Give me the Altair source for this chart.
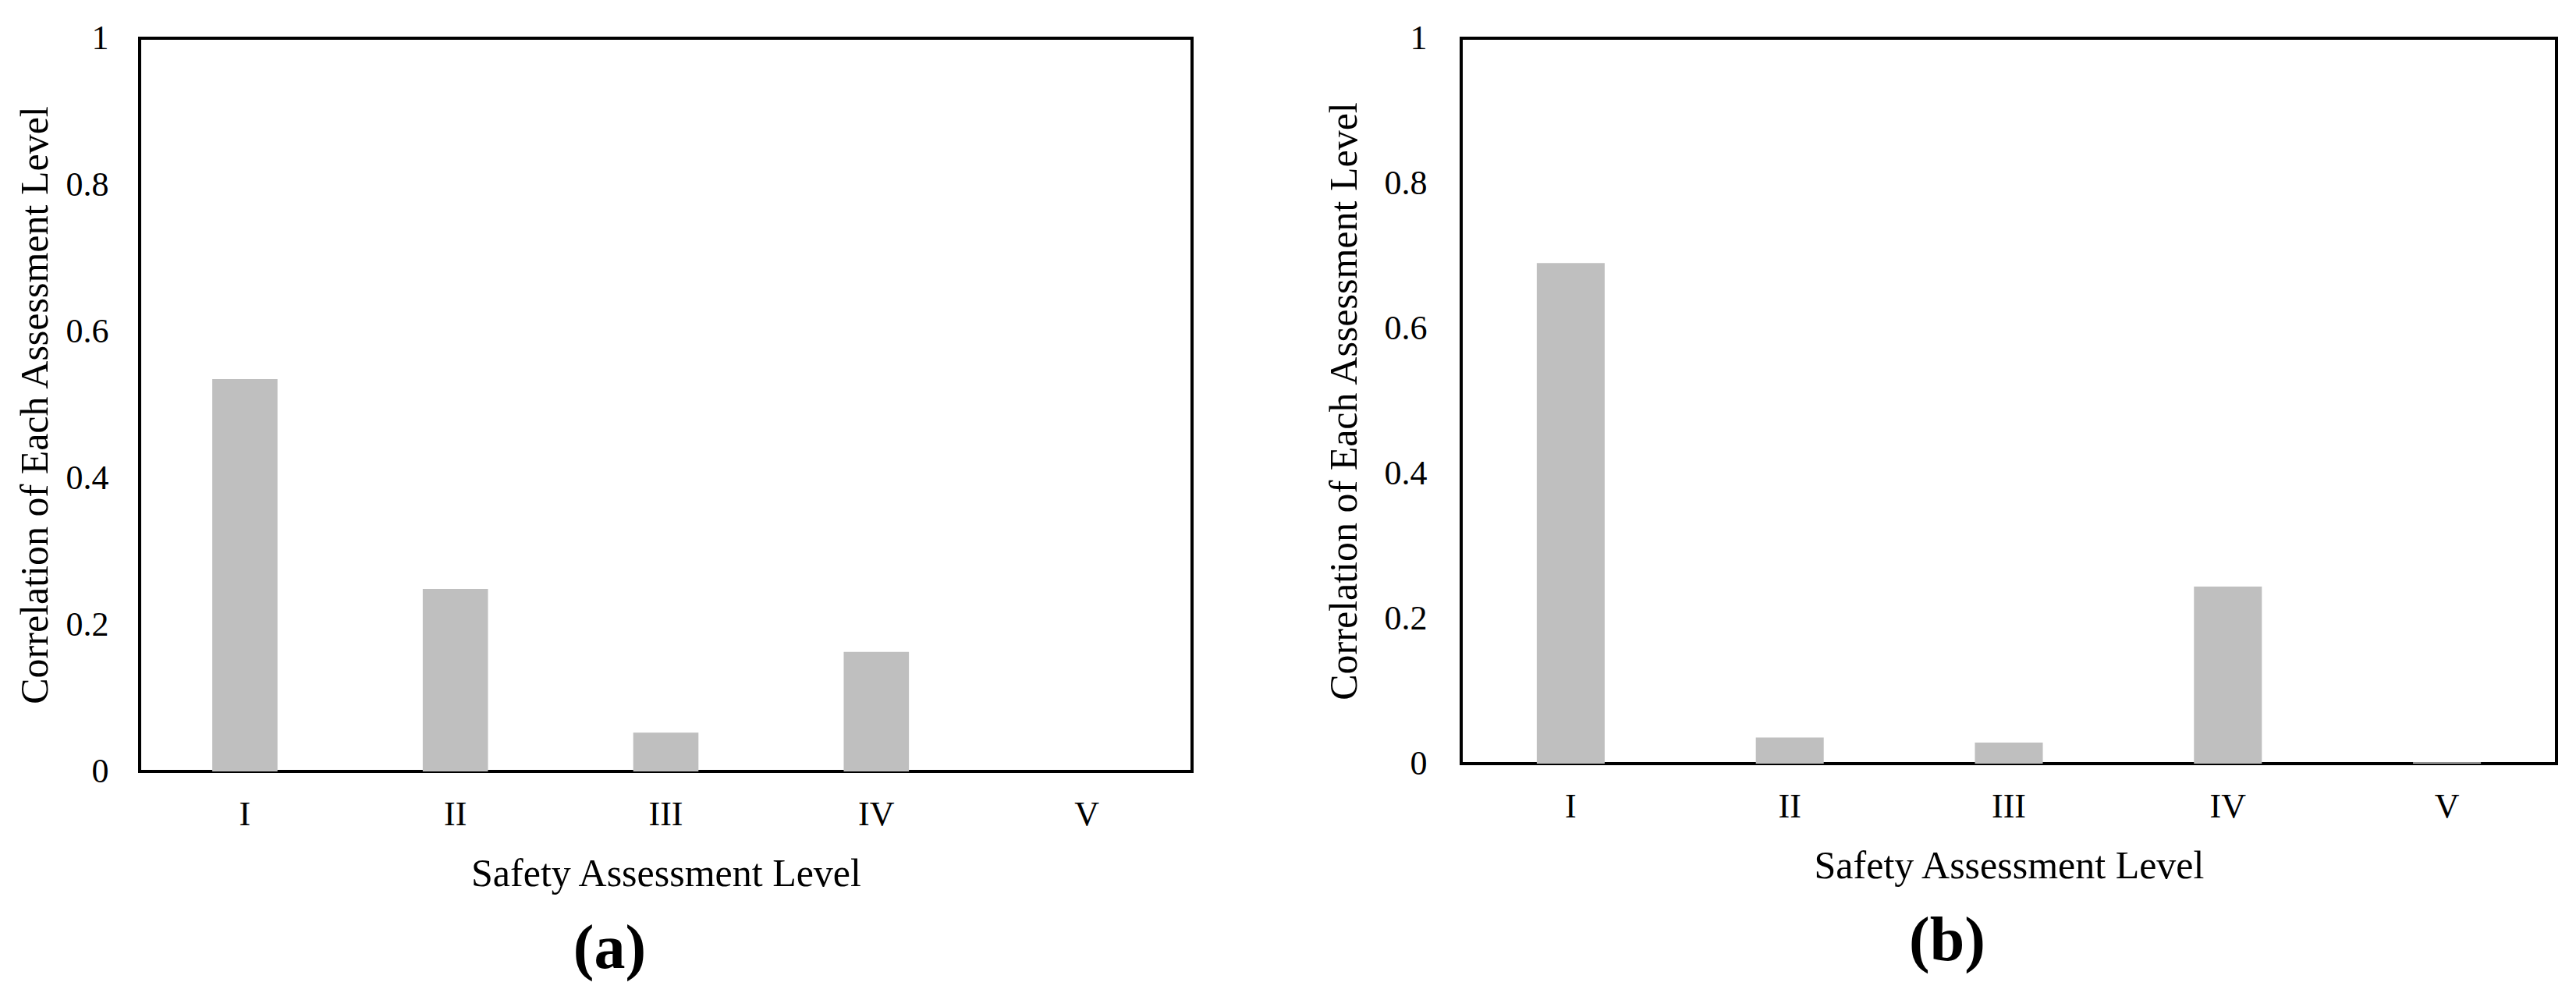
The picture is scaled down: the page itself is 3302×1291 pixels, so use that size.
import altair as alt
import pandas as pd

levels = ["I", "II", "III", "IV", "V"]
corr_a = [0.535, 0.249, 0.053, 0.163, 0.0]
corr_b = [0.690, 0.036, 0.029, 0.244, 0.002]
y_ticks = [0, 0.2, 0.4, 0.6, 0.8, 1]
x_title = "Safety Assessment Level"
y_title = "Correlation of Each Assessment Level"
panel_labels = ["(a)", "(b)"]

FONT = "Liberation Serif"
BAR = "#BFBFBF"


def panel(values, label, width, height, lab_pad, title_pad, dx):
    df = pd.DataFrame({"level": levels, "value": values})
    return alt.Chart(df).mark_bar(color=BAR).encode(
        x=alt.X(
            "level:N",
            sort=levels,
            scale=alt.Scale(paddingInner=0.69, paddingOuter=0.345),
            axis=alt.Axis(title=x_title, labelAngle=0, labelPadding=33, titlePadding=29),
        ),
        y=alt.Y(
            "value:Q",
            scale=alt.Scale(domain=[0, 1], nice=False),
            axis=alt.Axis(title=y_title, values=y_ticks, format="~g",
                          labelPadding=lab_pad, titlePadding=title_pad),
        ),
    ).properties(
        width=width,
        height=height,
        title=alt.TitleParams(label, orient="bottom", anchor="middle", frame="group", dx=dx,
                              fontSize=80, fontWeight="bold", font=FONT, color="black", offset=33),
    )


left = panel(corr_a, panel_labels[0], 1349, 940, 40, 14, -72)
right = panel(corr_b, panel_labels[1], 1404, 930, 44, 26, -79)

chart = alt.hconcat(left, right, spacing=166).properties(
    padding={"left": 10, "top": 17, "right": 0, "bottom": 0},
    background="white",
).configure_view(
    stroke="black", strokeWidth=4
).configure_axis(
    domain=False, ticks=False, grid=False,
    labelFont=FONT, titleFont=FONT, labelFontSize=44, titleFontSize=50,
    labelColor="black", titleColor="black", titleFontWeight="normal",
)

chart.save("out.html", embed_options={"renderer": "svg", "actions": False})
